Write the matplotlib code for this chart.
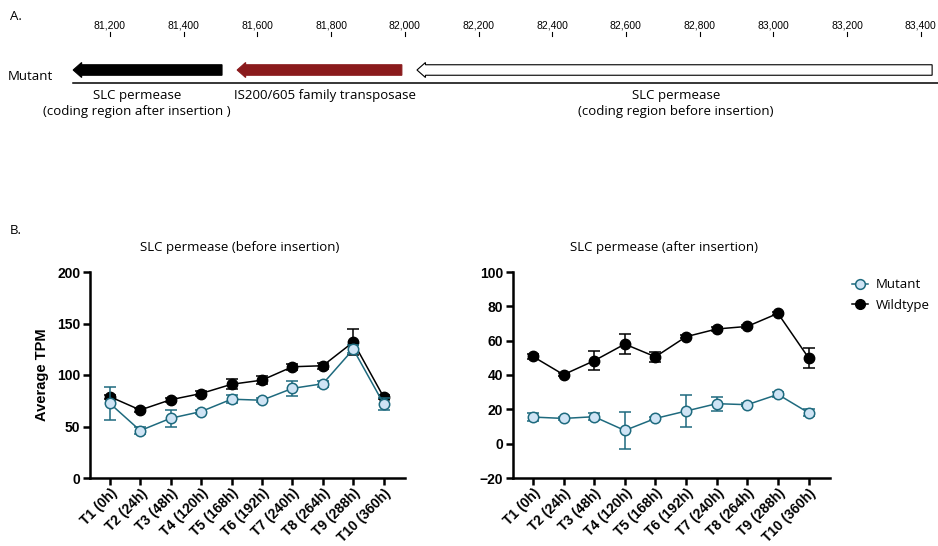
import numpy as np
import matplotlib.pyplot as plt
import matplotlib.patches as mpatches
from matplotlib.lines import Line2D

# genome coordinates (bp) for the insertion region
coord_ticks = [81200, 81400, 81600, 81800, 82000, 82200, 82400, 82600, 82800, 83000, 83200, 83400]
gene_names = ["SLC permease\n(coding region after insertion )",
              "IS200/605 family transposase",
              "SLC permease\n(coding region before insertion)"]
gene_start = [81504, 81992, 83431]   # tail of each arrow
gene_end = [81100, 81545, 82033]     # arrow tip (reverse strand)
gene_label_x = [81273, 81783, 82736]
gene_face = ['black', '#8a1a1c', 'white']

# expression time course
timepoints = ["T1 (0h)", "T2 (24h)", "T3 (48h)", "T4 (120h)", "T5 (168h)",
              "T6 (192h)", "T7 (240h)", "T8 (264h)", "T9 (288h)", "T10 (360h)"]

before_wt = [79, 66, 76, 82, 91, 95, 108, 109, 132, 78.5]
before_wt_err = [2, 1.5, 2, 2, 5, 4, 3, 3, 13, 2]
before_mut = [72.5, 46, 58, 64.5, 76.5, 75.5, 87, 91.5, 125, 72]
before_mut_err = [16, 3.5, 8, 2, 4, 2, 7, 3, 4, 6]

after_wt = [50.8, 40.2, 48.3, 58, 50.6, 62.3, 66.8, 68.3, 75.9, 50]
after_wt_err = [1.5, 1, 5.5, 6, 3, 1, 1, 1, 1, 6]
after_mut = [15.5, 14.7, 15.7, 7.7, 14.7, 19, 23.3, 22.7, 28.7, 18]
after_mut_err = [2.5, 1, 2, 11, 1, 9.3, 4, 1, 1.5, 2]

MUT_FACE = '#cfe4f5'
MUT_EDGE = '#1e6a7e'

plt.rcParams['font.family'] = ['Liberation Sans', 'DejaVu Sans']

fig = plt.figure(figsize=(9.38, 5.46), dpi=100)

# ---------------- panel A: gene map ----------------
axg = fig.add_axes([0, 1 - 130 / 546, 1, 130 / 546])
px_per_bp = 0.3685
axg.set_xlim(81200 - 110 / px_per_bp, 81200 + 828 / px_per_bp)
axg.set_ylim(130, 0)
axg.axis('off')

for t in coord_ticks:
    axg.text(t, 26, f"{t:,}", ha='center', va='center', fontsize=7.5)
    axg.plot([t, t], [32, 36], color='black', lw=0.8)

head_len = 8.5 / px_per_bp
for start, end, face in zip(gene_start, gene_end, gene_face):
    arr = mpatches.FancyArrow(start, 70, end - start, 0, width=10.5,
                              head_width=15, head_length=head_len,
                              length_includes_head=True, facecolor=face,
                              edgecolor='black' if face == 'white' else face,
                              lw=0.8)
    axg.add_patch(arr)

axg.plot([81100, 83470], [83, 83], color='black', lw=1.1)
for name, lx in zip(gene_names, gene_label_x):
    axg.text(lx, 89, name, ha='center', va='top', fontsize=9.5,
             family='Open Sans', linespacing=1.35)
fig.text(8 / 938, 1 - 76 / 546, "Mutant", ha='left', va='center', fontsize=9.5,
         family='Open Sans')

fig.text(10 / 938, 1 - 17 / 546, "A.", ha='left', va='center', fontsize=9.5, family='Open Sans')
fig.text(10 / 938, 1 - 231 / 546, "B.", ha='left', va='center', fontsize=9.5, family='Open Sans')

# ---------------- panel B: time courses ----------------
x = np.arange(len(timepoints))
bottom = 1 - 478 / 546
height = 206 / 546
ax1 = fig.add_axes([90 / 938, bottom, 315 / 938, height])
ax2 = fig.add_axes([513 / 938, bottom, 317 / 938, height])


def draw_panel(ax, wt, wt_err, mut, mut_err, title, ylim, yticks):
    ax.errorbar(x, wt, yerr=wt_err, color='black', marker='o', ms=7.5, lw=1.1,
                elinewidth=1.1, capsize=4, capthick=1.1, zorder=3)
    ax.errorbar(x, mut, yerr=mut_err, color=MUT_EDGE, marker='o', ms=7.5, lw=1.1,
                mfc=MUT_FACE, mec=MUT_EDGE, mew=1.1, elinewidth=1.1, capsize=4,
                capthick=1.1, zorder=4)
    ax.set_xlim(-0.65, 9.7)
    ax.set_ylim(*ylim)
    ax.set_yticks(yticks)
    ax.set_xticks(x)
    ax.set_xticklabels(timepoints, rotation=45, ha='right', rotation_mode='anchor')
    for s in ['top', 'right']:
        ax.spines[s].set_visible(False)
    for s in ['left', 'bottom']:
        ax.spines[s].set_linewidth(1.8)
    ax.tick_params(width=1.8, length=5, labelsize=10, pad=2)
    ax.tick_params(axis='x', pad=1)
    for lab in ax.get_xticklabels() + ax.get_yticklabels():
        lab.set_fontweight('bold')
    ax.set_title(title, fontsize=9.5, family='Open Sans', pad=15, x=0.475)


draw_panel(ax1, before_wt, before_wt_err, before_mut, before_mut_err,
           "SLC permease (before insertion)", (0, 200), [0, 50, 100, 150, 200])
ax1.set_ylabel("Average TPM", fontsize=10.5, fontweight='bold', labelpad=6)

draw_panel(ax2, after_wt, after_wt_err, after_mut, after_mut_err,
           "SLC permease (after insertion)", (-20, 100), [-20, 0, 20, 40, 60, 80, 100])

handles = [
    Line2D([], [], color=MUT_EDGE, marker='o', ms=7, lw=1.1, mfc=MUT_FACE,
           mec=MUT_EDGE, mew=1.1),
    Line2D([], [], color='black', marker='o', ms=7, lw=1.1),
]
fig.legend(handles, ['Mutant', 'Wildtype'], loc='upper left',
           bbox_to_anchor=(847 / 938, 1 - 273 / 546), frameon=False,
           prop={'family': 'Open Sans', 'size': 9.5}, handlelength=1.2,
           handletextpad=0.6, labelspacing=0.55, borderaxespad=0)

fig.savefig("out.png", dpi=100)
